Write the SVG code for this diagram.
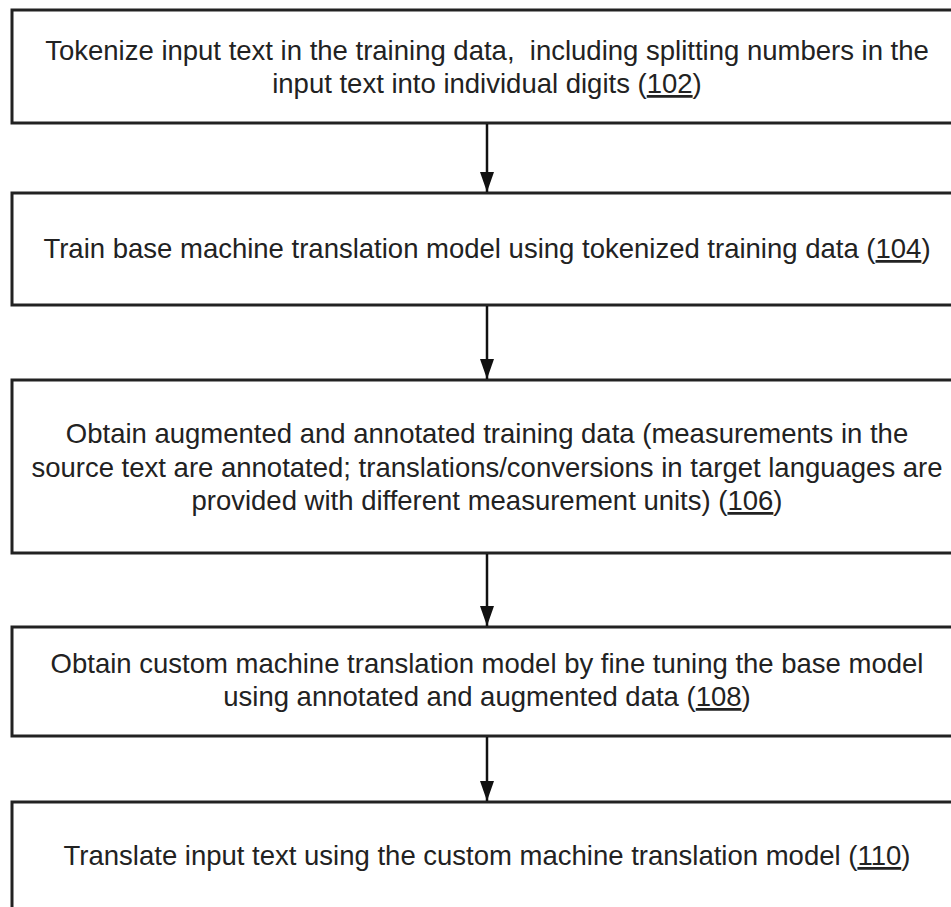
<svg xmlns="http://www.w3.org/2000/svg" width="951" height="907" viewBox="0 0 951 907">
  <style>
    .box { fill: #ffffff; stroke: #222222; stroke-width: 3; }
    .lbl { font-family: "Liberation Sans", Arial, sans-serif; font-size: 27.5px; fill: #222222; text-anchor: middle; white-space: pre; }
    .ref { text-decoration: underline; }
    .edge { stroke: #111111; stroke-width: 2.5; fill: none; marker-end: url(#head); }
  </style>
  <defs>
    <marker id="head" markerWidth="20" markerHeight="14" refX="20" refY="7" orient="auto" markerUnits="userSpaceOnUse" viewBox="0 0 20 14">
      <path d="M0,0 L20,7 L0,14 Z" fill="#111111"/>
    </marker>
  </defs>
  <rect width="951" height="907" fill="#ffffff"/>

  <g id="step102">
    <rect class="box" x="12" y="10" width="960" height="113"/>
    <text class="lbl" x="487" y="60" xml:space="preserve">Tokenize input text in the training data,  including splitting numbers in the</text>
    <text class="lbl" x="487" y="93">input text into individual digits (<tspan class="ref">102</tspan>)</text>
  </g>

  <g id="step104">
    <rect class="box" x="12" y="193" width="960" height="112"/>
    <text class="lbl" x="487" y="258">Train base machine translation model using tokenized training data (<tspan class="ref">104</tspan>)</text>
  </g>

  <g id="step106">
    <rect class="box" x="12" y="380" width="960" height="173"/>
    <text class="lbl" x="487" y="443">Obtain augmented and annotated training data (measurements in the</text>
    <text class="lbl" x="487" y="477">source text are annotated; translations/conversions in target languages are</text>
    <text class="lbl" x="487" y="510">provided with different measurement units) (<tspan class="ref">106</tspan>)</text>
  </g>

  <g id="step108">
    <rect class="box" x="12" y="627" width="960" height="109"/>
    <text class="lbl" x="487" y="673">Obtain custom machine translation model by fine tuning the base model</text>
    <text class="lbl" x="487" y="706">using annotated and augmented data (<tspan class="ref">108</tspan>)</text>
  </g>

  <g id="step110">
    <rect class="box" x="12" y="802" width="960" height="130"/>
    <text class="lbl" x="487" y="865">Translate input text using the custom machine translation model (<tspan class="ref">110</tspan>)</text>
  </g>

  <g id="connectors">
    <line class="edge" x1="487" y1="124" x2="487" y2="192"/>
    <line class="edge" x1="487" y1="306" x2="487" y2="379"/>
    <line class="edge" x1="487" y1="554" x2="487" y2="626"/>
    <line class="edge" x1="487" y1="737" x2="487" y2="801"/>
  </g>
</svg>
